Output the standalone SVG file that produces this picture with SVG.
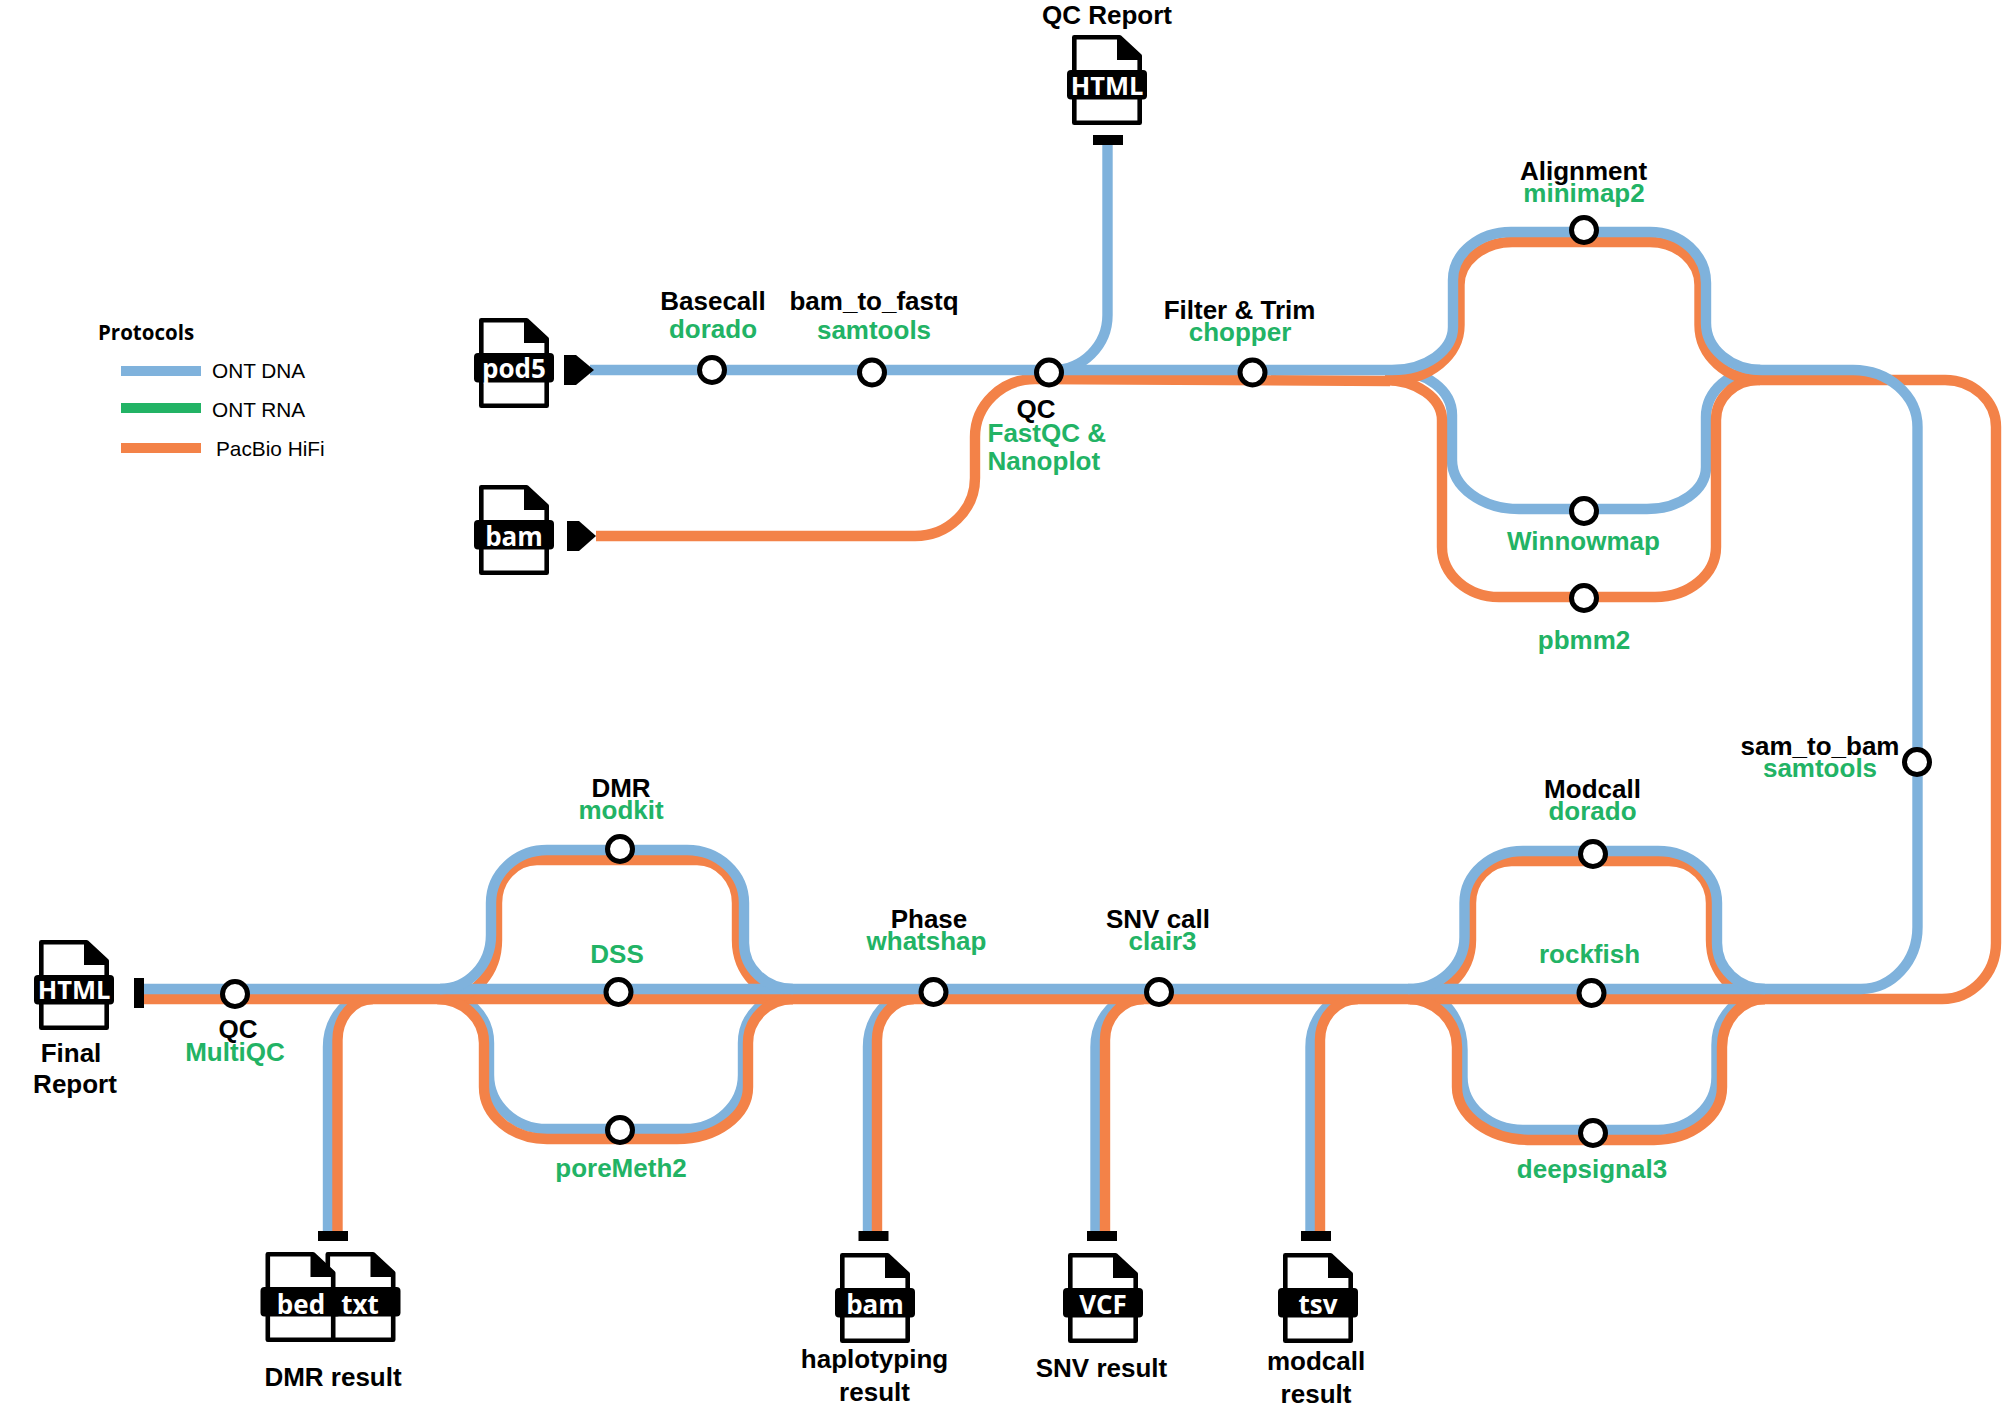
<svg xmlns="http://www.w3.org/2000/svg" width="2002" height="1410" viewBox="0 0 2002 1410">
<style>
.b{fill:none;stroke:#7fb2dc;stroke-width:10.4}
.o{fill:none;stroke:#f38248;stroke-width:10.4}
.st{fill:#fff;stroke:#000;stroke-width:5}
.t{font-family:"Liberation Sans",Arial,sans-serif;font-weight:700;font-size:26px;text-anchor:middle;fill:#000}
.tool{fill:#22b365}
.start{text-anchor:start}
.ft{font-family:"Open Sans","Noto Sans",sans-serif;font-weight:700;font-size:26px;text-anchor:middle;fill:#fff}
.lh{font-family:"Open Sans","Noto Sans",sans-serif;font-weight:700;font-size:20.5px;fill:#000}
.lt{font-family:"Liberation Sans",Arial,sans-serif;font-size:20.8px;fill:#000}
</style>
<defs>
<g id="file">
<path d="M2.3 2.3H47.5L67.7 21V87.7H2.3Z" fill="#fff" stroke="#000" stroke-width="4.6" stroke-linejoin="round"/>
<path d="M45 1H48L69 20V25H45Z" fill="#000"/>
<rect x="-5" y="35" width="80" height="29.5" rx="4" fill="#000"/>
</g>
</defs>
<rect width="2002" height="1410" fill="#fff"/>

<g id="connectors">
<!-- under-layer blue -->
<path class="b" d="M1395 371A57 44 0 0 1 1452 415V460A67 49 0 0 0 1519 509H1647A59 42 0 0 0 1706 467V417A54 47 0 0 1 1760 370"/>
<path class="b" d="M440 994A49 49 0 0 1 489 1043V1075A58 54 0 0 0 547 1129H685A58 54 0 0 0 743 1075V1043A50 49 0 0 1 793 994"/>
<path class="b" d="M1420 994A42.5 56 0 0 1 1462.5 1050V1077A60.5 53 0 0 0 1523 1130H1658A58.5 53 0 0 0 1716.5 1077V1045A48 51 0 0 1 1765 994"/>
<path class="b" d="M328 1231V1047A47 53 0 0 1 375 994"/>
<path class="b" d="M868 1231V1047A46 53 0 0 1 914 994"/>
<path class="b" d="M1095.5 1231V1047A48.5 53 0 0 1 1144 994"/>
<path class="b" d="M1310.5 1231V1047A47.5 53 0 0 1 1358 994"/>
<!-- orange -->
<path class="o" d="M596 536H915A60 58 0 0 0 975 478V437A60 58 0 0 1 1035 379L1390 381"/>
<path class="o" d="M1392 380A67.5 55 0 0 0 1459.5 325V285A53 43 0 0 1 1512 242H1650A49.5 43 0 0 1 1699.5 285V325A60 55 0 0 0 1760 380"/>
<path class="o" d="M1385 380A57 40 0 0 1 1442 420V547A57 50 0 0 0 1499 597H1655A61 50 0 0 0 1716 547V420A42 40 0 0 1 1758 380H1945A51 47 0 0 1 1996 427V943A54 56 0 0 1 1942 999H144"/>
<path class="o" d="M1410 999A61 59 0 0 0 1471 940V903A40.5 42 0 0 1 1511.5 861H1669A42 42 0 0 1 1711 903V940A54 59 0 0 0 1765 999"/>
<path class="o" d="M1408 999A49 48 0 0 1 1457 1047V1087A74 53 0 0 0 1531 1140H1654A68 53 0 0 0 1722 1087V1047A43 48 0 0 1 1765 999"/>
<path class="o" d="M445 999A52 59 0 0 0 497 940V903A40 43 0 0 1 537 860H697A40 43 0 0 1 737 903V940A56 59 0 0 0 793 999"/>
<path class="o" d="M437 999A47 44 0 0 1 484 1043V1087A63 52 0 0 0 547 1139H677A71 52 0 0 0 748 1087V1043A45 44 0 0 1 793 999"/>
<path class="o" d="M337.5 1231V1040A35.5 41 0 0 1 373 999"/>
<path class="o" d="M877 1231V1040A37 41 0 0 1 914 999"/>
<path class="o" d="M1105 1231V1040A39 41 0 0 1 1144 999"/>
<path class="o" d="M1320 1231V1040A38 41 0 0 1 1358 999"/>
<!-- top-layer blue -->
<path class="b" d="M1107.5 145V315A55 55 0 0 1 1052 370"/>
<path class="b" d="M590 370H1392A61 43 0 0 0 1453 327V280A58 48 0 0 1 1511 232H1650A56 51 0 0 1 1706 283V323A56 47 0 0 0 1762 370H1853A64.5 57 0 0 1 1917.5 427V927A56.5 62 0 0 1 1861 989H144"/>
<path class="b" d="M1408 989A56.5 52 0 0 0 1464.5 937V903A58.5 52 0 0 1 1523 851H1658A59 52 0 0 1 1717 903V943A48 46 0 0 0 1765 989"/>
<path class="b" d="M440 989A51 54 0 0 0 491 935V903A56 53 0 0 1 547 850H687A57 53 0 0 1 744 903V943A49 46 0 0 0 793 989"/>
<!-- terminals -->
<polygon points="564,355 576,355 594,370 576,385 564,385" fill="#000"/>
<polygon points="567,521 579,521 596,536 579,551 567,551" fill="#000"/>
<rect x="1093" y="135" width="30" height="10" fill="#000"/>
<rect x="134" y="978" width="10" height="30" fill="#000"/>
<rect x="318" y="1231" width="30" height="10" fill="#000"/>
<rect x="858.5" y="1231" width="30" height="10" fill="#000"/>
<rect x="1087" y="1231" width="30" height="10" fill="#000"/>
<rect x="1301" y="1231" width="30" height="10" fill="#000"/>
</g>

<g id="legend">
<text class="lh" x="98" y="340">Protocols</text>
<rect x="121" y="366" width="80" height="10" fill="#7fb2dc"/>
<text class="lt" x="212" y="377.5">ONT DNA</text>
<rect x="121" y="403" width="80" height="10" fill="#22b365"/>
<text class="lt" x="212" y="417">ONT RNA</text>
<rect x="121" y="443" width="80" height="10" fill="#f38248"/>
<text class="lt" x="216" y="456">PacBio HiFi</text>
</g>

<g id="file-pod5"><use href="#file" x="479" y="318"/><text class="ft" x="514" y="378">pod5</text></g>
<g id="file-bam-in"><use href="#file" x="479" y="485"/><text class="ft" x="514" y="546">bam</text></g>
<g id="file-qc-report">
<text class="t" x="1107" y="24">QC Report</text>
<use href="#file" x="1072" y="35"/><text class="ft" x="1107" y="95" style="font-size:25.5px">HTML</text></g>
<g id="file-final-report"><use href="#file" x="39" y="940"/><text class="ft" x="74" y="999" style="font-size:25.5px">HTML</text>
<text class="t" x="71" y="1062">Final</text><text class="t" x="75" y="1093">Report</text></g>
<g id="file-dmr-result"><use href="#file" x="325.5" y="1252"/><use href="#file" x="265.5" y="1252"/>
<text class="ft" x="301" y="1314">bed</text><text class="ft" x="360" y="1314">txt</text>
<text class="t" x="333" y="1386">DMR result</text></g>
<g id="file-haplotyping"><use href="#file" x="840" y="1253"/><text class="ft" x="875" y="1314">bam</text>
<text class="t" x="874.5" y="1368">haplotyping</text><text class="t" x="874.5" y="1401">result</text></g>
<g id="file-snv"><use href="#file" x="1068" y="1253"/><text class="ft" x="1103" y="1314">VCF</text>
<text class="t" x="1101.5" y="1377">SNV result</text></g>
<g id="file-modcall"><use href="#file" x="1283" y="1253"/><text class="ft" x="1318" y="1314">tsv</text>
<text class="t" x="1316" y="1370">modcall</text><text class="t" x="1316" y="1403">result</text></g>

<g id="node-basecall"><circle class="st" cx="712" cy="370" r="12.5"/><text class="t" x="713" y="310">Basecall</text><text class="t tool" x="713" y="338">dorado</text></g>
<g id="node-bam-to-fastq"><circle class="st" cx="872" cy="372.5" r="12.5"/><text class="t" x="874" y="310">bam_to_fastq</text><text class="t tool" x="874" y="339">samtools</text></g>
<g id="node-qc"><circle class="st" cx="1049" cy="372.5" r="12.5"/><text class="t" x="1036" y="418">QC</text><text class="t tool start" x="987.5" y="442">FastQC &amp;</text><text class="t tool start" x="987.5" y="470">Nanoplot</text></g>
<g id="node-filter"><circle class="st" cx="1252.5" cy="372.5" r="12.5"/><text class="t" x="1239.5" y="319">Filter &amp; Trim</text><text class="t tool" x="1240" y="341">chopper</text></g>
<g id="node-minimap2"><circle class="st" cx="1584" cy="230" r="12.5"/><text class="t" x="1583.5" y="180">Alignment</text><text class="t tool" x="1584" y="202">minimap2</text></g>
<g id="node-winnowmap"><circle class="st" cx="1584" cy="511" r="12.5"/><text class="t tool" x="1583.5" y="550">Winnowmap</text></g>
<g id="node-pbmm2"><circle class="st" cx="1584" cy="598" r="12.5"/><text class="t tool" x="1584" y="649">pbmm2</text></g>
<g id="node-sam-to-bam"><circle class="st" cx="1917" cy="762" r="12.5"/><text class="t" x="1820" y="755">sam_to_bam</text><text class="t tool" x="1820" y="777">samtools</text></g>
<g id="node-modcall"><circle class="st" cx="1593" cy="854" r="12.5"/><text class="t" x="1592.5" y="798">Modcall</text><text class="t tool" x="1592.5" y="820">dorado</text></g>
<g id="node-rockfish"><circle class="st" cx="1591.5" cy="993" r="12.5"/><text class="t tool" x="1589.5" y="963">rockfish</text></g>
<g id="node-deepsignal3"><circle class="st" cx="1593" cy="1133" r="12.5"/><text class="t tool" x="1592" y="1178">deepsignal3</text></g>
<g id="node-snv"><circle class="st" cx="1159" cy="992" r="12.5"/><text class="t" x="1158" y="928">SNV call</text><text class="t tool" x="1162.5" y="950">clair3</text></g>
<g id="node-phase"><circle class="st" cx="933.5" cy="992" r="12.5"/><text class="t" x="929" y="928">Phase</text><text class="t tool" x="926.5" y="950">whatshap</text></g>
<g id="node-modkit"><circle class="st" cx="620" cy="849" r="12.5"/><text class="t" x="621" y="797">DMR</text><text class="t tool" x="621" y="819">modkit</text></g>
<g id="node-dss"><circle class="st" cx="618.5" cy="992" r="12.5"/><text class="t tool" x="617" y="963">DSS</text></g>
<g id="node-poremeth2"><circle class="st" cx="620" cy="1130" r="12.5"/><text class="t tool" x="621" y="1177">poreMeth2</text></g>
<g id="node-multiqc"><circle class="st" cx="235" cy="994" r="12.5"/><text class="t" x="238" y="1038">QC</text><text class="t tool" x="235" y="1061">MultiQC</text></g>
</svg>
